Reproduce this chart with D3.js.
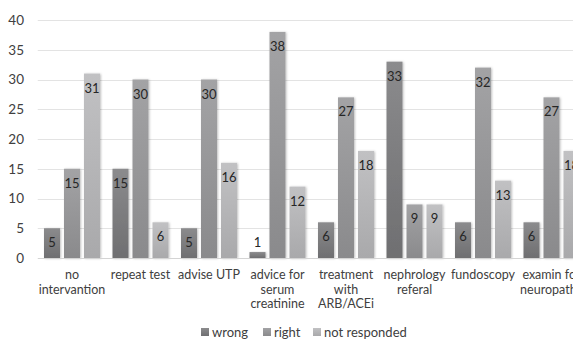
<!DOCTYPE html>
<html>
<head>
<meta charset="utf-8">
<script src="https://cdn.jsdelivr.net/npm/d3@7"></script>
<style>
  html, body { margin: 0; padding: 0; background: #fff; overflow: hidden; }
  svg { display: block; font-family: Lato, "Open Sans", sans-serif; }
</style>
</head>
<body>
<svg id="chart" width="573" height="339"></svg>
<script>
// Survey answers per intervention
const categories = [
  "no\nintervantion",
  "repeat test",
  "advise UTP",
  "advice for\nserum\ncreatinine",
  "treatment\nwith\nARB/ACEi",
  "nephrology\nreferal",
  "fundoscopy",
  "examin for\nneuropathy"
];
const seriesNames = ["wrong", "right", "not responded"];
const wrong = [5, 15, 5, 1, 6, 33, 6, 6];
const right = [15, 30, 30, 38, 27, 9, 32, 27];
const notResponded = [31, 6, 16, 12, 18, 9, 13, 18];
const yTicks = [0, 5, 10, 15, 20, 25, 30, 35, 40];

const seriesValues = [wrong, right, notResponded];
const colors = [
  ["#8b8b8d", "#6f6f71"],
  ["#a3a3a5", "#8a8a8c"],
  ["#c1c1c3", "#a9a9ab"]
];

const svg = d3.select("#chart");
const plot = { left: 37.75, right: 585.75, top: 20, bottom: 258 };

const x0 = d3.scaleBand().domain(d3.range(categories.length))
  .range([plot.left, plot.right]).padding(0);
const step = x0.bandwidth();
const inset = 6.25;
const x1 = d3.scaleBand().domain(d3.range(seriesNames.length))
  .range([inset, step - inset]).paddingInner(0.2).paddingOuter(0);
const y = d3.scaleLinear().domain([0, 40]).range([plot.bottom, plot.top]);

const defs = svg.append("defs");
colors.forEach((c, i) => {
  const g = defs.append("linearGradient").attr("id", "grad" + i)
    .attr("x1", 0).attr("y1", 0).attr("x2", 0).attr("y2", 1);
  g.append("stop").attr("offset", "0%").attr("stop-color", c[0]);
  g.append("stop").attr("offset", "100%").attr("stop-color", c[1]);
});
const f = defs.append("filter").attr("id", "shadow")
  .attr("x", "-30%").attr("y", "-10%").attr("width", "160%").attr("height", "120%");
f.append("feDropShadow").attr("dx", 1).attr("dy", 0.5)
  .attr("stdDeviation", 1).attr("flood-color", "#000").attr("flood-opacity", 0.25);

// grid lines
svg.append("g").selectAll("line").data(yTicks.filter(t => t > 0)).join("line")
  .attr("x1", plot.left).attr("x2", plot.right)
  .attr("y1", d => Math.round(y(d)) + 0.5).attr("y2", d => Math.round(y(d)) + 0.5)
  .attr("stroke", "#e3e3e3").attr("stroke-width", 1);

// y axis labels
const yAxis = d3.axisLeft(y).tickValues(yTicks).tickSize(0).tickPadding(0);
const yg = svg.append("g").attr("transform", "translate(24,0)").call(yAxis);
yg.select(".domain").remove();
yg.selectAll("text").attr("font-size", 13.5).attr("fill", "#404040")
  .attr("font-family", "Lato, sans-serif");

// bars
const groups = svg.append("g").selectAll("g").data(categories).join("g")
  .attr("transform", (d, i) => `translate(${x0(i)},0)`);

seriesNames.forEach((s, si) => {
  groups.append("rect")
    .attr("x", x1(si))
    .attr("width", x1.bandwidth())
    .attr("y", (d, i) => y(seriesValues[si][i]))
    .attr("height", (d, i) => y(0) - y(seriesValues[si][i]))
    .attr("fill", `url(#grad${si})`)
    .attr("filter", "url(#shadow)");
});

// value labels
seriesNames.forEach((s, si) => {
  groups.append("text")
    .attr("x", x1(si) + x1.bandwidth() / 2)
    .attr("y", (d, i) => {
      const v = seriesValues[si][i];
      const top = y(v);
      return (y(0) - top) < 20 && v < 3 ? top - 5 : top + 19;
    })
    .attr("text-anchor", "middle")
    .attr("font-size", 13)
    .attr("fill", "#262626")
    .text((d, i) => seriesValues[si][i]);
});

// baseline
svg.append("line").attr("x1", plot.left).attr("x2", plot.right)
  .attr("y1", y(0) + 0.5).attr("y2", y(0) + 0.5)
  .attr("stroke", "#d4d4d4").attr("stroke-width", 1);

// category labels
const xAxis = svg.append("g");
categories.forEach((c, i) => {
  const t = xAxis.append("text")
    .attr("x", x0(i) + step / 2)
    .attr("y", 279)
    .attr("text-anchor", "middle")
    .attr("font-size", 12.5)
    .attr("fill", "#404040");
  c.split("\n").forEach((line, li) => {
    t.append("tspan").attr("x", x0(i) + step / 2)
      .attr("dy", li === 0 ? 0 : 14.5).text(line);
  });
});

// legend
const legendX = [201, 263, 313];
const legend = svg.append("g");
seriesNames.forEach((s, si) => {
  legend.append("rect").attr("x", legendX[si]).attr("y", 328)
    .attr("width", 8).attr("height", 8)
    .attr("fill", `url(#grad${si})`);
  legend.append("text").attr("x", legendX[si] + 11).attr("y", 337)
    .attr("font-size", 13).attr("fill", "#404040").text(s);
});
</script>
</body>
</html>
